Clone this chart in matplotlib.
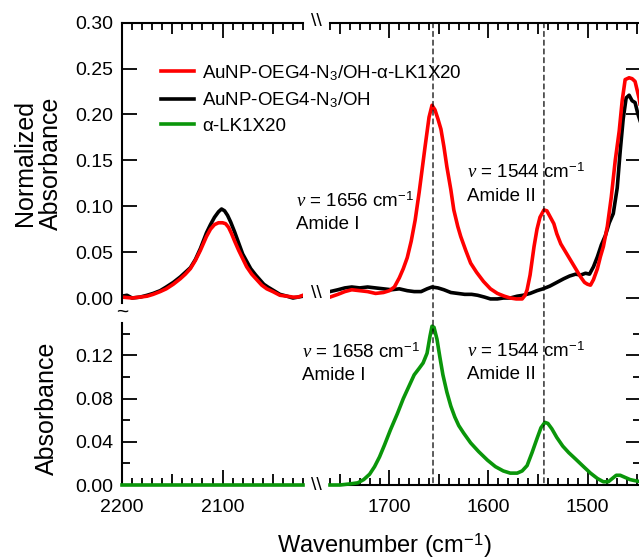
import matplotlib
matplotlib.use('Agg')
import matplotlib.pyplot as plt
from matplotlib.ticker import MultipleLocator, FormatStrFormatter
from matplotlib.patches import ConnectionPatch

plt.rcParams['font.family'] = ['Liberation Sans', 'DejaVu Sans']
plt.rcParams['mathtext.fontset'] = 'custom'
plt.rcParams['mathtext.rm'] = 'Liberation Sans'
plt.rcParams['mathtext.it'] = 'Liberation Serif:italic'

# ---- data ----
# AuNP-OEG4-N3/OH-a-LK1X20 (red), azide region
red_l_wn = [2200, 2190, 2182, 2175, 2169, 2162, 2156, 2149, 2142, 2137,
            2132, 2127, 2122, 2116, 2112, 2108, 2104, 2100, 2097, 2094,
            2091, 2088, 2084, 2080, 2076, 2071, 2066, 2061, 2056, 2050,
            2043, 2036, 2030, 2025, 2020]
red_l = [0.001, 0.000, 0.001, 0.002, 0.004, 0.007, 0.010, 0.015, 0.021, 0.026,
         0.032, 0.041, 0.052, 0.067, 0.075, 0.080, 0.082, 0.082, 0.081, 0.077,
         0.070, 0.062, 0.052, 0.043, 0.034, 0.026, 0.020, 0.014, 0.010, 0.007,
         0.003, 0.002, 0.001, 0.001, 0.003]

# AuNP-OEG4-N3/OH (black), azide region
blk_l_wn = [2200, 2195, 2190, 2182, 2175, 2169, 2162, 2156, 2149, 2142,
            2137, 2132, 2127, 2122, 2116, 2112, 2108, 2104, 2101, 2098,
            2095, 2092, 2088, 2084, 2080, 2076, 2072, 2067, 2063, 2059,
            2055, 2049, 2043, 2036, 2030, 2025, 2020]
blk_l = [0.002, 0.003, 0.000, 0.001, 0.003, 0.005, 0.008, 0.012, 0.017, 0.023,
         0.028, 0.033, 0.042, 0.054, 0.071, 0.080, 0.088, 0.094, 0.097, 0.095,
         0.090, 0.083, 0.072, 0.060, 0.048, 0.040, 0.032, 0.025, 0.020, 0.015,
         0.012, 0.008, 0.004, 0.002, 0.000, 0.001, 0.002]

# amide region
red_r_wn = [1760, 1752, 1745, 1738, 1730, 1722, 1714, 1706, 1700, 1695,
            1690, 1686, 1682, 1678, 1674, 1670, 1667, 1664, 1660, 1657,
            1654, 1651, 1648, 1645, 1642, 1638, 1635, 1631, 1628, 1623,
            1618, 1612, 1605, 1598, 1591, 1584, 1578, 1572, 1566, 1563,
            1561, 1558, 1554, 1551, 1548, 1544, 1541, 1538, 1534, 1531,
            1527, 1522, 1517, 1512, 1507, 1503, 1500, 1497, 1494, 1490,
            1487, 1484, 1480, 1476, 1472, 1468, 1465, 1462, 1458, 1455,
            1452, 1448, 1446]
red_r = [0.001, 0.004, 0.007, 0.009, 0.008, 0.007, 0.005, 0.006, 0.008, 0.012,
         0.022, 0.032, 0.044, 0.062, 0.085, 0.115, 0.140, 0.165, 0.197, 0.210,
         0.205, 0.195, 0.184, 0.165, 0.143, 0.118, 0.096, 0.078, 0.067, 0.052,
         0.038, 0.028, 0.018, 0.010, 0.005, 0.002, 0.000, -0.001, -0.001, 0.003,
         0.009, 0.025, 0.056, 0.075, 0.088, 0.096, 0.095, 0.089, 0.081, 0.070,
         0.059, 0.050, 0.041, 0.032, 0.023, 0.017, 0.015, 0.014, 0.020, 0.032,
         0.045, 0.056, 0.078, 0.110, 0.150, 0.182, 0.215, 0.238, 0.240, 0.239,
         0.236, 0.218, 0.205]

blk_r_wn = [1760, 1752, 1745, 1738, 1730, 1722, 1714, 1706, 1698, 1690,
            1682, 1675, 1668, 1662, 1657, 1651, 1645, 1638, 1631, 1624,
            1617, 1611, 1604, 1598, 1591, 1585, 1578, 1571, 1565, 1558,
            1551, 1545, 1538, 1531, 1524, 1518, 1512, 1507, 1502, 1498,
            1494, 1490, 1486, 1482, 1478, 1474, 1470, 1467, 1464, 1461,
            1458, 1455, 1452, 1449, 1446]
blk_r = [0.007, 0.009, 0.011, 0.012, 0.011, 0.012, 0.011, 0.010, 0.009, 0.010,
         0.008, 0.007, 0.007, 0.010, 0.012, 0.011, 0.009, 0.006, 0.005, 0.004,
         0.004, 0.003, 0.001, -0.001, -0.001, 0.000, 0.000, 0.002, 0.003, 0.005,
         0.008, 0.010, 0.013, 0.017, 0.021, 0.024, 0.026, 0.025, 0.027, 0.026,
         0.034, 0.045, 0.058, 0.068, 0.082, 0.092, 0.120, 0.160, 0.195, 0.218,
         0.221, 0.215, 0.213, 0.200, 0.190]

# a-LK1X20 (green), absolute absorbance
grn_l_wn = [2200, 2020]
grn_l = [0.0, 0.0]
grn_r_wn = [1760, 1750, 1740, 1732, 1726, 1720, 1715, 1710, 1705, 1699,
            1692, 1686, 1680, 1675, 1670, 1666, 1662, 1659, 1657, 1655,
            1652, 1649, 1646, 1642, 1638, 1634, 1630, 1625, 1618, 1610,
            1601, 1593, 1585, 1578, 1571, 1566, 1561, 1556, 1551, 1547,
            1543, 1540, 1536, 1531, 1525, 1519, 1512, 1504, 1497, 1490,
            1484, 1479, 1475, 1471, 1467, 1462, 1457, 1452, 1446]
grn_r = [0.000, 0.000, 0.001, 0.002, 0.005, 0.010, 0.017, 0.026, 0.037, 0.051,
         0.066, 0.080, 0.092, 0.102, 0.108, 0.113, 0.122, 0.138, 0.147, 0.146,
         0.135, 0.118, 0.102, 0.086, 0.073, 0.063, 0.055, 0.048, 0.039, 0.031,
         0.023, 0.017, 0.013, 0.011, 0.011, 0.013, 0.018, 0.030, 0.043, 0.053,
         0.058, 0.057, 0.052, 0.044, 0.036, 0.030, 0.024, 0.017, 0.011, 0.006,
         0.003, 0.003, 0.006, 0.009, 0.009, 0.007, 0.005, 0.004, 0.003]

band_lines = [1656, 1544]
labels = ['AuNP-OEG4-N$_3$/OH-α-LK1X20', 'AuNP-OEG4-N$_3$/OH', 'α-LK1X20']
colors = ['#ff0000', 'black', '#0a960a']


def fx(px):
    return px / 639


def fy(py):
    return 1 - py / 560


fig = plt.figure(figsize=(6.39, 5.60), dpi=100)

top_b, top_t = 303, 22.7
bot_b, bot_t = 485, 323
left_l, left_r = 122, 303
right_l, right_r = 330, 641

ax_tl = fig.add_axes([fx(left_l), fy(top_b), (left_r - left_l) / 639, (top_b - top_t) / 560])
ax_tr = fig.add_axes([fx(right_l), fy(top_b), (right_r - right_l) / 639, (top_b - top_t) / 560])
ax_bl = fig.add_axes([fx(left_l), fy(bot_b), (left_r - left_l) / 639, (bot_b - bot_t) / 560])
ax_br = fig.add_axes([fx(right_l), fy(bot_b), (right_r - right_l) / 639, (bot_b - bot_t) / 560])

lw = 2.6
ax_tl.plot(blk_l_wn, blk_l, color=colors[1], lw=lw)
ax_tl.plot(red_l_wn, red_l, color=colors[0], lw=lw)
ax_tr.plot(blk_r_wn, blk_r, color=colors[1], lw=lw)
ax_tr.plot(red_r_wn, red_r, color=colors[0], lw=lw)
ax_bl.plot(grn_l_wn, grn_l, color=colors[2], lw=lw, clip_on=False, zorder=5)
ax_br.plot(grn_r_wn, grn_r, color=colors[2], lw=lw, clip_on=False, zorder=5)

for ax in (ax_tl, ax_bl):
    ax.set_xlim(2200, 2020)
for ax in (ax_tr, ax_br):
    ax.set_xlim(1760, 1446)
for ax in (ax_tl, ax_tr):
    ax.set_ylim(-(top_b - 298) / 920, 0.30)
for ax in (ax_bl, ax_br):
    ax.set_ylim(0, 0.15)

# spines
for ax in (ax_tl, ax_tr, ax_bl, ax_br):
    for s in ax.spines.values():
        s.set_linewidth(1.5)
ax_tl.spines[['right', 'bottom']].set_visible(False)
ax_tr.spines[['left', 'bottom']].set_visible(False)
ax_bl.spines[['right', 'top']].set_visible(False)
ax_br.spines[['left', 'top']].set_visible(False)

# x ticks
for ax, top in ((ax_tl, True), (ax_tr, True), (ax_bl, False), (ax_br, False)):
    ax.xaxis.set_major_locator(MultipleLocator(100))
    ax.xaxis.set_minor_locator(MultipleLocator(10))
    ax.tick_params(axis='x', which='major', direction='in', length=11, width=1.3,
                   top=top, bottom=not top, labeltop=False, labelbottom=not top,
                   labelsize=14, pad=10)
    ax.tick_params(axis='x', which='minor', direction='in', length=5, width=1.3,
                   top=top, bottom=not top)

# y ticks
for ax in (ax_tl, ax_tr):
    ax.yaxis.set_major_locator(MultipleLocator(0.05))
for ax in (ax_bl, ax_br):
    ax.yaxis.set_major_locator(MultipleLocator(0.04))
    ax.yaxis.set_minor_locator(MultipleLocator(0.02))
for ax in (ax_tl, ax_bl):
    ax.yaxis.set_major_formatter(FormatStrFormatter('%.2f'))
    ax.tick_params(axis='y', which='major', direction='in', length=11, width=1.3,
                   left=True, right=False, labelsize=14, pad=6)
    ax.tick_params(axis='y', which='minor', direction='in', length=5.5, width=1.3,
                   left=True, right=False)
for ax in (ax_tr, ax_br):
    ax.tick_params(axis='y', which='major', direction='in', length=11, width=1.3,
                   left=False, right=True, labelleft=False)
    ax.tick_params(axis='y', which='minor', direction='in', length=5.5, width=1.3,
                   left=False, right=True)

# medium ticks every 50 cm-1
for ax in (ax_tl, ax_tr, ax_bl, ax_br):
    locs = ax.xaxis.get_minorticklocs()
    ticks = ax.xaxis.get_minor_ticks(len(locs))
    for loc, t in zip(locs, ticks):
        if round(loc) % 50 == 0:
            t.tick1line.set_markersize(8)
            t.tick2line.set_markersize(8)

# dashed guide lines through both panels
for x in band_lines:
    con = ConnectionPatch(xyA=(x, 0.30), coordsA=ax_tr.transData,
                          xyB=(x, 0.0), coordsB=ax_br.transData,
                          linestyle=(0, (4, 3)), color='black', lw=0.9)
    fig.add_artist(con)

# axis break marks
for py in (22, 294, 485):
    fig.text(fx(316), fy(py), '\\\\', fontsize=14, ha='center', va='center')
fig.text(fx(122), fy(312), '~', fontsize=15, ha='center', va='center')

# annotations
fs_ann = 13.5
fig.text(fx(296), fy(207), r'$\nu$ = 1656 cm$^{-1}$', fontsize=fs_ann, va='baseline')
fig.text(fx(296), fy(229), 'Amide I', fontsize=fs_ann, va='baseline')
fig.text(fx(467), fy(178), r'$\nu$ = 1544 cm$^{-1}$', fontsize=fs_ann, va='baseline')
fig.text(fx(467), fy(201), 'Amide II', fontsize=fs_ann, va='baseline')
fig.text(fx(302), fy(358), r'$\nu$ = 1658 cm$^{-1}$', fontsize=fs_ann, va='baseline')
fig.text(fx(302), fy(380), 'Amide I', fontsize=fs_ann, va='baseline')
fig.text(fx(467), fy(357), r'$\nu$ = 1544 cm$^{-1}$', fontsize=fs_ann, va='baseline')
fig.text(fx(467), fy(379), 'Amide II', fontsize=fs_ann, va='baseline')

# axis labels
fig.text(fx(38), fy(163), 'Normalized\nAbsorbance', fontsize=18, rotation=90,
         ha='center', va='center', linespacing=1.1)
fig.text(fx(47), fy(408), 'Absorbance', fontsize=18, rotation=90,
         ha='center', va='center')
fig.text(fx(384), fy(546), 'Wavenumber (cm$^{-1}$)', fontsize=17,
         ha='center', va='center')

# legend
handles = [plt.Line2D([], [], color=c, lw=lw) for c in colors]
fig.legend(handles, labels, loc='upper left', bbox_to_anchor=(fx(161), fy(63)),
           frameon=False, fontsize=13.5, handlelength=1.75, handletextpad=0.45,
           labelspacing=0.4, borderpad=0, borderaxespad=0)

fig.savefig('out.png', dpi=100)
